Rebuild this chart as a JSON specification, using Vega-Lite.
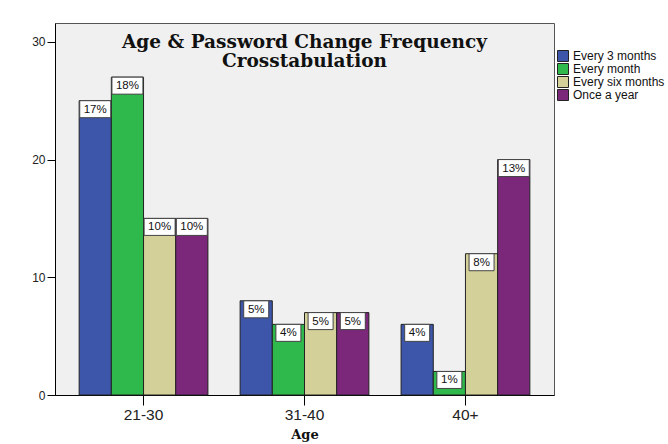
{
  "$schema": "https://vega.github.io/schema/vega-lite/v6.json",
  "width": 499,
  "height": 372,
  "autosize": "none",
  "padding": {"left": 55, "top": 23, "right": 114, "bottom": 49},
  "background": "white",
  "title": {
    "text": ["Age & Password Change Frequency", "Crosstabulation"],
    "font": "DejaVu Serif",
    "fontWeight": "bold",
    "fontSize": 18.5,
    "lineHeight": 19,
    "color": "#111",
    "anchor": "middle",
    "baseline": "top",
    "offset": -37,
    "dy": 10
  },
  "config": {
    "view": {"fill": "#F0F0F0", "stroke": "#555", "strokeWidth": 1},
    "axis": {"grid": false, "domainColor": "#000", "tickColor": "#000", "labelColor": "#222", "labelFont": "Liberation Sans", "titleFont": "DejaVu Serif", "titleFontWeight": "bold", "titleColor": "#111"}
  },
  "data": {
    "values": [
      {"Age": "21-30", "Frequency": "Every 3 months", "Count": 25, "Pct": "17%"},
      {"Age": "21-30", "Frequency": "Every month", "Count": 27, "Pct": "18%"},
      {"Age": "21-30", "Frequency": "Every six months", "Count": 15, "Pct": "10%"},
      {"Age": "21-30", "Frequency": "Once a year", "Count": 15, "Pct": "10%"},
      {"Age": "31-40", "Frequency": "Every 3 months", "Count": 8, "Pct": "5%"},
      {"Age": "31-40", "Frequency": "Every month", "Count": 6, "Pct": "4%"},
      {"Age": "31-40", "Frequency": "Every six months", "Count": 7, "Pct": "5%"},
      {"Age": "31-40", "Frequency": "Once a year", "Count": 7, "Pct": "5%"},
      {"Age": "40+", "Frequency": "Every 3 months", "Count": 6, "Pct": "4%"},
      {"Age": "40+", "Frequency": "Every month", "Count": 2, "Pct": "1%"},
      {"Age": "40+", "Frequency": "Every six months", "Count": 12, "Pct": "8%"},
      {"Age": "40+", "Frequency": "Once a year", "Count": 20, "Pct": "13%"}
    ]
  },
  "encoding": {
    "x": {
      "field": "Age", "type": "nominal", "sort": ["21-30", "31-40", "40+"],
      "scale": {"paddingInner": 0.2, "paddingOuter": 0.15},
      "axis": {"labelAngle": 0, "labelFontSize": 15.5, "tickSize": 10, "labelPadding": 2, "title": "Age", "titleFontSize": 13, "titlePadding": 6}
    },
    "xOffset": {
      "field": "Frequency", "type": "nominal",
      "sort": ["Every 3 months", "Every month", "Every six months", "Once a year"],
      "scale": {"paddingInner": 0, "paddingOuter": 0}
    },
    "y": {
      "field": "Count", "type": "quantitative",
      "scale": {"domain": [0, 31.6], "nice": false},
      "axis": {"values": [0, 10, 20, 30], "title": null, "labelFontSize": 12, "tickSize": 8, "labelPadding": 2}
    }
  },
  "layer": [
    {
      "mark": {"type": "bar", "stroke": "#222", "strokeWidth": 1},
      "encoding": {
        "color": {
          "field": "Frequency", "type": "nominal",
          "sort": ["Every 3 months", "Every month", "Every six months", "Once a year"],
          "scale": {"domain": ["Every 3 months", "Every month", "Every six months", "Once a year"], "range": ["#3D56A9", "#2FB84B", "#D4D09A", "#7B287B"]},
          "legend": {
            "title": null, "orient": "none", "legendX": 502, "legendY": 27,
            "symbolType": "square", "symbolSize": 121, "symbolStrokeColor": "#222", "symbolStrokeWidth": 1, "symbolOpacity": 1,
            "labelFont": "Liberation Sans", "labelFontSize": 12, "labelColor": "#111", "labelOffset": 4, "rowPadding": 1, "clipHeight": 12
          }
        }
      }
    },
    {
      "mark": {"type": "point", "filled": true, "fill": "white", "stroke": "#444", "strokeWidth": 1, "opacity": 1, "yOffset": 8.5},
      "encoding": {
        "shape": {
          "condition": {"test": "length(datum.Pct) > 2", "value": "M-1,-0.548H1V0.548H-1Z"},
          "value": "M-1,-0.68H1V0.68H-1Z"
        },
        "size": {
          "condition": {"test": "length(datum.Pct) > 2", "value": 961},
          "value": 625
        }
      }
    },
    {
      "mark": {"type": "text", "font": "Liberation Sans", "fontSize": 11.5, "color": "#111", "baseline": "middle", "yOffset": 9},
      "encoding": {"text": {"field": "Pct"}}
    }
  ]
}
